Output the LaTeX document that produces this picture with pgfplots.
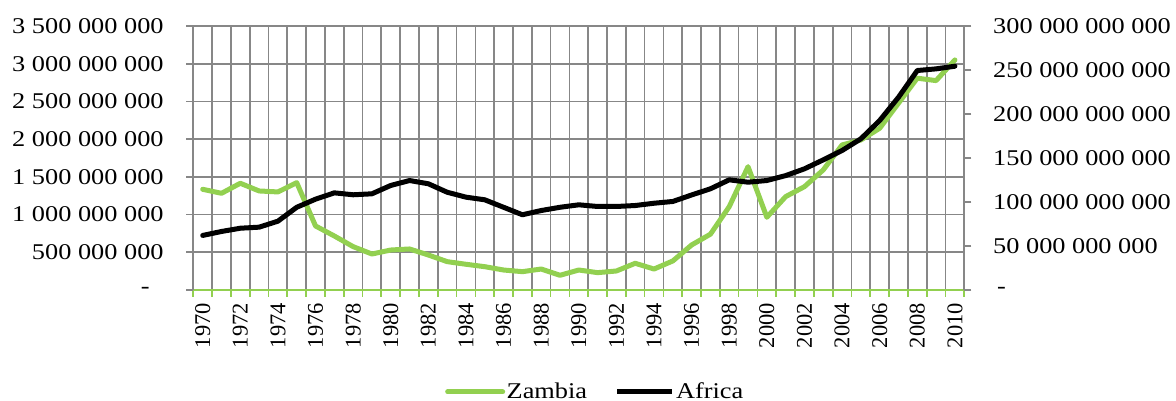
\documentclass[border=0pt]{standalone}
\usepackage{fontspec}
\setmainfont{Liberation Serif}[FakeStretch=1.17]
\newfontfamily\plainserif{Liberation Serif}
\usepackage{pgfplots}
\pgfplotsset{compat=1.18}
\definecolor{zgreen}{RGB}{146,208,80}
\definecolor{gridgray}{RGB}{135,135,135}
\begin{document}
\fontsize{22.5}{27}\selectfont
\begin{tikzpicture}
\useasboundingbox (0,0) rectangle (1176pt,401pt);
\begin{axis}[
  at={(193.3pt,111pt)}, anchor=south west,
  scale only axis, width=771pt, height=264pt,
  xmin=1969.5, xmax=2010.5, ymin=0, ymax=3.5e9,
  scaled y ticks=false,
  axis x line*=bottom, axis y line*=left,
  x axis line style={zgreen, line width=2pt},
  y axis line style={gridgray, line width=1.7pt},
  tick align=outside, major tick length=7pt,
  xtick={1969.5,1970.5,...,2010.5},
  xticklabels={},
  xtick style={zgreen, line width=1.7pt},
  extra x ticks={1970,1972,...,2010},
  extra x tick labels={1970,1972,1974,1976,1978,1980,1982,1984,1986,1988,1990,1992,1994,1996,1998,2000,2002,2004,2006,2008,2010},
  extra x tick style={grid=none, major tick length=0pt,
    xticklabel style={rotate=90, anchor=east, inner sep=0pt, font=\plainserif, xshift=-13pt}},
  xmajorgrids, ymajorgrids,
  grid style={gridgray, line width=1.7pt},
  ytick={0,5e8,1e9,1.5e9,2e9,2.5e9,3e9,3.5e9},
  yticklabels={-\hspace*{14pt}, 500~000~000, 1~000~000~000, 1~500~000~000, 2~000~000~000, 2~500~000~000, 3~000~000~000, 3~500~000~000},
  ytick style={gridgray, line width=1.7pt},
  yticklabel style={inner sep=0pt, xshift=-22.5pt},
  legend style={at={(0.521,-0.386)}, anchor=center, draw=none, fill=none,
    legend columns=2, /tikz/every even column/.append style={column sep=26pt},
    nodes={inner sep=1.5pt}},
  legend image code/.code={\draw[#1] (0pt,0pt) -- (55pt,0pt);},
]
\addplot[zgreen, line width=5pt, line join=round, line cap=round] coordinates {
(1970,1335e6)(1971,1282e6)(1972,1415e6)(1973,1313e6)(1974,1300e6)(1975,1423e6)
(1976,849e6)(1977,716e6)(1978,575e6)(1979,477e6)(1980,530e6)(1981,544e6)
(1982,464e6)(1983,376e6)(1984,341e6)(1985,309e6)(1986,265e6)(1987,243e6)
(1988,278e6)(1989,195e6)(1990,265e6)(1991,230e6)(1992,252e6)(1993,354e6)
(1994,278e6)(1995,385e6)(1996,597e6)(1997,740e6)(1998,1105e6)(1999,1635e6)
(2000,964e6)(2001,1238e6)(2002,1370e6)(2003,1592e6)(2004,1923e6)(2005,1989e6)
(2006,2144e6)(2007,2476e6)(2008,2808e6)(2009,2776e6)(2010,3050e6)};
\addlegendentry{Zambia}
\addlegendimage{black, line width=5pt}
\addlegendentry{Africa}
\end{axis}
\begin{axis}[
  at={(193.3pt,111pt)}, anchor=south west,
  scale only axis, width=771pt, height=264pt,
  xmin=1969.5, xmax=2010.5, ymin=0, ymax=3e11,
  scaled y ticks=false,
  axis x line=none, axis y line*=right,
  y axis line style={gridgray, line width=1.7pt},
  tick align=outside, major tick length=7pt,
  ytick={0,5e10,1e11,1.5e11,2e11,2.5e11,3e11},
  yticklabels={\hspace*{4pt}-, 50~000~000~000, 100~000~000~000, 150~000~000~000, 200~000~000~000, 250~000~000~000, 300~000~000~000},
  ytick style={gridgray, line width=1.7pt},
  yticklabel style={anchor=west, inner sep=0pt, xshift=21.7pt},
]
\addplot[black, line width=5pt, line join=round, line cap=round] coordinates {
(1970,62e9)(1971,66.5e9)(1972,70.2e9)(1973,71.4e9)(1974,78.2e9)(1975,94e9)
(1976,103.2e9)(1977,110.4e9)(1978,108.2e9)(1979,109.3e9)(1980,118.8e9)(1981,124.4e9)
(1982,120.7e9)(1983,111.1e9)(1984,105.5e9)(1985,102.5e9)(1986,94e9)(1987,85.5e9)
(1988,90.3e9)(1989,94e9)(1990,96.8e9)(1991,94.9e9)(1992,94.9e9)(1993,96e9)
(1994,98.6e9)(1995,100.6e9)(1996,108e9)(1997,115e9)(1998,125.2e9)(1999,122.5e9)
(2000,124.4e9)(2001,130e9)(2002,137.7e9)(2003,147.9e9)(2004,158.5e9)(2005,171.8e9)
(2006,192.6e9)(2007,219e9)(2008,249.4e9)(2009,251.3e9)(2010,254.3e9)};
\end{axis}
\end{tikzpicture}
\end{document}
